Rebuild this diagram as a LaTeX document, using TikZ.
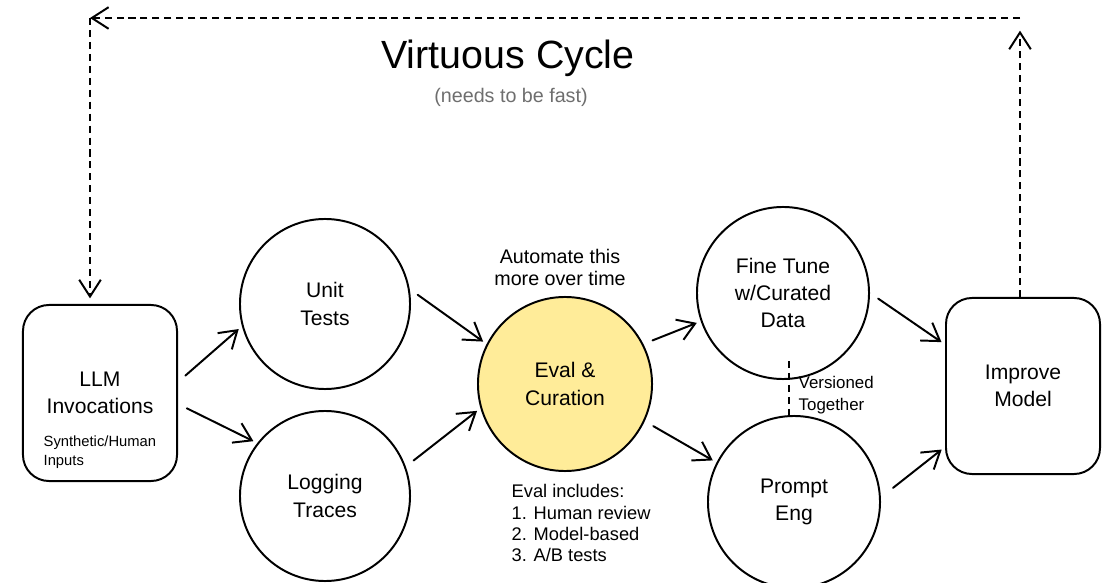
\documentclass[tikz,border=0pt]{standalone}
\usepackage{fontspec}
\setmainfont{Liberation Sans}
\usetikzlibrary{arrows.meta}
\definecolor{evalyellow}{HTML}{FFEC99}
\definecolor{notegray}{HTML}{6E6E6E}
\begin{document}
\begin{tikzpicture}[x=0.025cm, y=-0.025cm, line width=1.4pt, line join=round, line cap=round,
    every node/.style={font=\fontsize{15}{19.5}\selectfont},
    stage/.style={draw, circle, minimum size=4.25cm, align=center, inner sep=0pt},
    endbox/.style={draw, rounded corners=0.65cm, minimum width=3.85cm, minimum height=4.4cm, align=center},
    flow/.style={draw, -{Straight Barb[length=4.2mm, width=5.4mm]}, shorten <=7pt, shorten >=3pt},
    loopline/.style={dash pattern=on 5pt off 3.5pt, line cap=butt},
    small/.style={font=\fontsize{13}{15}\selectfont, align=left}]
  \useasboundingbox (0,0) rectangle (1112,583);

  % stages
  \node (llm) [endbox] at (100,393) {LLM\\Invocations};
  \node (inputs) [anchor=west, font=\fontsize{10.5}{13.5}\selectfont, align=left] at (38,452) {Synthetic/Human\\Inputs};
  \node (unit) [stage] at (325,304) {Unit\\Tests};
  \node (logging) [stage] at (325,496) {Logging\\Traces};
  \node (eval) [stage, fill=evalyellow, minimum size=4.35cm] at (565,384) {Eval \&\\Curation};
  \node (fine) [stage, minimum size=4.3cm] at (783,293) {Fine Tune\\w/Curated\\Data};
  \node (prompt) [stage, minimum size=4.3cm] at (794,502) {Prompt\\Eng};
  \node (improve) [endbox] at (1023,386) {Improve\\Model};

  % notes
  \node (title) [font=\fontsize{28}{32}\selectfont] at (508,58) {Virtuous Cycle};
  \node (subtitle) [text=notegray, font=\fontsize{14}{16}\selectfont] at (511,97) {(needs to be fast)};
  \node (automate) [align=center, font=\fontsize{14}{15.6}\selectfont] at (560,267) {Automate this\\more over time};
  \node (evalnote) [small, anchor=north west] at (506,479) {Eval includes:\\1. Human review\\2. Model-based\\3. A/B tests};
  \node (versioned) [anchor=west, font=\fontsize{12}{15.5}\selectfont, align=left] at (793,395) {Versioned\\Together};

  % flow
  \path (llm.8) edge[flow] (unit.195)
        (llm.-8) edge[flow] (logging.142)
        (unit.10) edge[flow] (eval.153)
        (logging.20) edge[flow] (eval.196)
        (eval.27) edge[flow] (fine.199)
        (eval.-25) edge[flow] (prompt.153)
        (fine.0) edge[flow] (improve.152)
        (prompt.3) edge[flow, shorten <=11pt] (improve.218);
  \draw[loopline] ([shift={(6,-19)}]fine.south) -- ([shift={(-5,0)}]prompt.north);

  % the cycle back
  \coordinate (topright) at (1020,18);
  \coordinate (topleft) at (90,18);
  \draw[loopline, -{Straight Barb[length=4.2mm, width=5.4mm]}, shorten >=9pt] (improve.north -| topright) -- (topright);
  \draw[loopline, -{Straight Barb[length=4.2mm, width=5.4mm]}] (topright) -- (topleft);
  \draw[loopline, -{Straight Barb[length=4.2mm, width=5.4mm]}, shorten >=4pt] (topleft) -- (topleft |- llm.north);
\end{tikzpicture}
\end{document}
